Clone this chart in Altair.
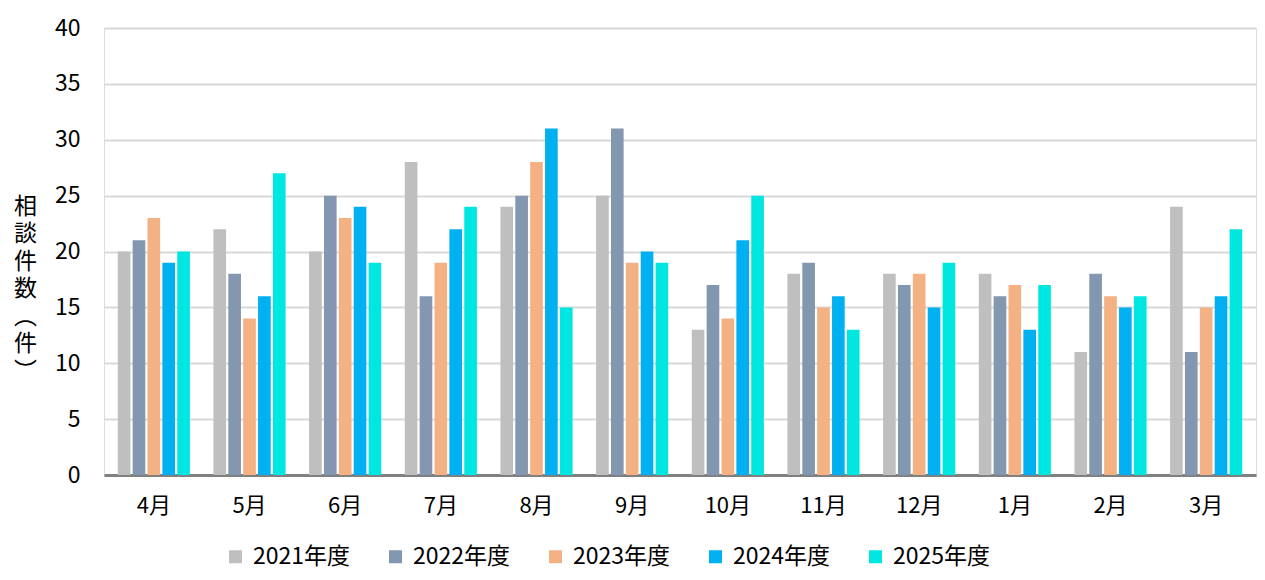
import altair as alt
import pandas as pd

months = ["4月", "5月", "6月", "7月", "8月", "9月", "10月", "11月", "12月", "1月", "2月", "3月"]
years = ["2021年度", "2022年度", "2023年度", "2024年度", "2025年度"]
v2021 = [20, 22, 20, 28, 24, 25, 13, 18, 18, 18, 11, 24]
v2022 = [21, 18, 25, 16, 25, 31, 17, 19, 17, 16, 18, 11]
v2023 = [23, 14, 23, 19, 28, 19, 14, 15, 18, 17, 16, 15]
v2024 = [19, 16, 24, 22, 31, 20, 21, 16, 15, 13, 15, 16]
v2025 = [20, 27, 19, 24, 15, 19, 25, 13, 19, 17, 16, 22]
colors = ["#BFBFBF", "#8497B0", "#F4B183", "#00B0F0", "#00E6E0"]
y_title = ["相", "談", "件", "数", "︵", "件", "︶"]

rows = []
for yr, vals in zip(years, [v2021, v2022, v2023, v2024, v2025]):
    for m, v in zip(months, vals):
        rows.append({"month": m, "year": yr, "count": v})
df = pd.DataFrame(rows)

FONT = "Noto Sans CJK JP"

chart = alt.Chart(df).mark_bar().encode(
    x=alt.X("month:N", sort=months,
            scale=alt.Scale(paddingInner=0.246, paddingOuter=0.144),
            axis=alt.Axis(title=None, labelAngle=0, ticks=False, labelPadding=20,
                          labelFontSize=22, labelColor="#000000", labelFont=FONT,
                          domainColor="#808080", domainWidth=3)),
    xOffset=alt.XOffset("year:N", sort=years, scale=alt.Scale(paddingInner=0.15, paddingOuter=0)),
    y=alt.Y("count:Q", scale=alt.Scale(domain=[0, 40], nice=False),
            axis=alt.Axis(title=y_title, values=[0, 5, 10, 15, 20, 25, 30, 35, 40],
                          ticks=False, domain=False, labelPadding=24,
                          labelFontSize=23, labelColor="#000000", labelFont=FONT,
                          gridColor="#D9D9D9", gridWidth=2,
                          titleAngle=0, titleX=-79, titleY=167, titleAlign="center",
                          titleBaseline="top", titleLineHeight=27.5, titleFontSize=23,
                          titleFontWeight="normal", titleColor="#000000", titleFont=FONT)),
    color=alt.Color("year:N", sort=years,
                    scale=alt.Scale(domain=years, range=colors),
                    legend=alt.Legend(title=None, orient="none", direction="horizontal",
                                      legendX=120, legendY=517,
                                      symbolType="square", symbolSize=169, symbolStrokeWidth=0,
                                      labelFontSize=23, labelFont=FONT, labelColor="#000000",
                                      labelOffset=6, columnPadding=33)),
).properties(
    width=1152,
    height=447,
    autosize=alt.AutoSizeParams(type="none"),
    padding={"left": 96, "top": 20, "right": 1, "bottom": 97},
).configure_view(
    fill="#FFF2CC", stroke="#898989", strokeWidth=2
).configure(
    background="#FFFFFF"
)

chart.save("out.html", embed_options={"renderer": "svg", "actions": False})
